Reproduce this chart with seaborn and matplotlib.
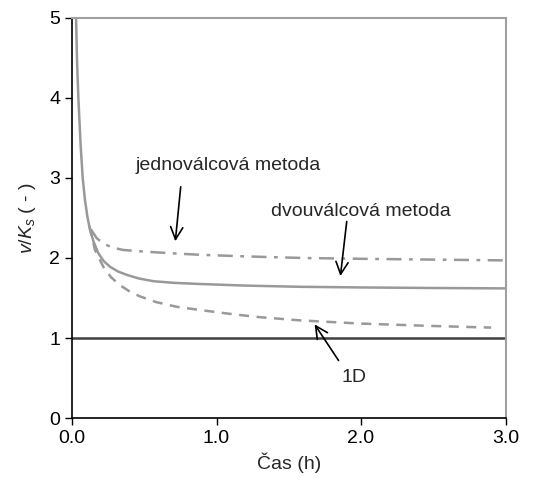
import pandas as pd
import seaborn as sns
import matplotlib.pyplot as plt
from matplotlib.ticker import FormatStrFormatter


# values (time in h, v/Ks dimensionless)
t_dvou = [0.015, 0.028, 0.035, 0.044, 0.06, 0.074, 0.09, 0.107, 0.125, 0.15, 0.182, 0.22,
          0.263, 0.32, 0.378, 0.46, 0.563, 0.7, 0.886, 1.2, 1.58, 2.0, 2.5, 3.0]
v_dvou = [6.0, 5.0, 4.45, 4.0, 3.4, 3.0, 2.72, 2.51, 2.35, 2.2, 2.06, 1.96,
          1.89, 1.83, 1.79, 1.745, 1.71, 1.69, 1.675, 1.655, 1.64, 1.632, 1.625, 1.62]

t_jedno = [0.13, 0.17, 0.217, 0.28, 0.355, 0.5, 0.678, 0.886, 1.2, 1.6, 2.0, 2.5, 3.0]
v_jedno = [2.36, 2.25, 2.18, 2.13, 2.1, 2.08, 2.06, 2.04, 2.02, 2.0, 1.99, 1.98, 1.97]

t_1d = [0.12, 0.159, 0.217, 0.27, 0.332, 0.4, 0.47, 0.58, 0.724, 0.886, 1.1, 1.3,
        1.58, 2.0, 2.5, 2.9]
v_1d = [2.4, 2.1, 1.89, 1.76, 1.66, 1.58, 1.52, 1.45, 1.39, 1.35, 1.3, 1.26,
        1.22, 1.18, 1.15, 1.13]

ref_level = 1.0

sns.set_style("ticks")
plt.rcParams['font.family'] = ['Liberation Sans', 'DejaVu Sans']
plt.rcParams['mathtext.fontset'] = 'custom'
plt.rcParams['mathtext.rm'] = 'Liberation Sans'
plt.rcParams['mathtext.it'] = 'Liberation Sans:italic'

df_dvou = pd.DataFrame({'t': t_dvou, 'v': v_dvou})
df_jedno = pd.DataFrame({'t': t_jedno, 'v': v_jedno})
df_1d = pd.DataFrame({'t': t_1d, 'v': v_1d})

gray = '#999999'
fig = plt.figure(figsize=(5.35, 4.86), dpi=100)
ax = fig.add_axes([0.1346, 0.1399, 0.8104, 0.8231])

ax.axhline(ref_level, color='#404040', lw=1.8, zorder=1)
sns.lineplot(data=df_jedno, x='t', y='v', ax=ax, color=gray, lw=1.8,
             linestyle=(0, (6, 3, 1.5, 3)))
sns.lineplot(data=df_1d, x='t', y='v', ax=ax, color=gray, lw=1.8,
             linestyle=(0, (4, 3)))
sns.lineplot(data=df_dvou, x='t', y='v', ax=ax, color=gray, lw=1.8)

ax.set_xlim(0, 3)
ax.set_ylim(0, 5)
ax.set_xticks([0, 1, 2, 3])
ax.set_yticks([0, 1, 2, 3, 4, 5])
ax.xaxis.set_major_formatter(FormatStrFormatter('%.1f'))
ax.tick_params(direction='out', length=5, width=1, labelsize=14, colors='black')
ax.set_xlabel('Čas (h)', fontsize=14)
ax.set_ylabel(r'$v/K_s$ ( - )', fontsize=14, labelpad=8)

for side in ['top', 'right']:
    ax.spines[side].set_color('#a0a0a0')
    ax.spines[side].set_linewidth(1.5)
for side in ['left', 'bottom']:
    ax.spines[side].set_color('black')
    ax.spines[side].set_linewidth(1.2)

# labels with arrows
arrow = dict(arrowstyle='->', color='black', lw=1.2, mutation_scale=22)
ax.text(1.08, 3.16, 'jednoválcová metoda', fontsize=14, ha='center', va='center')
ax.annotate('', xy=(0.713, 2.175), xytext=(0.754, 2.925), arrowprops=arrow)
ax.text(2.0, 2.575, 'dvouválcová metoda', fontsize=14, ha='center', va='center')
ax.annotate('', xy=(1.855, 1.74), xytext=(1.903, 2.49), arrowprops=arrow)
ax.text(1.95, 0.51, '1D', fontsize=14, ha='center', va='center')
ax.annotate('', xy=(1.668, 1.2), xytext=(1.855, 0.69), arrowprops=arrow)

plt.savefig('out.png', dpi=100)
